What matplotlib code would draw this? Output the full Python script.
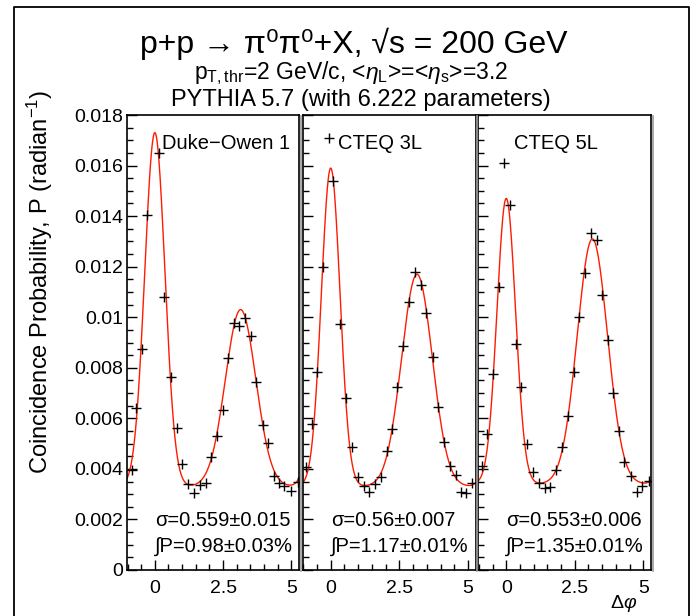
import numpy as np
import matplotlib
matplotlib.use("Agg")
import matplotlib.pyplot as plt
from matplotlib.lines import Line2D
from matplotlib.ticker import FixedLocator

plt.rcParams['font.family'] = ['Liberation Sans', 'DejaVu Sans']
plt.rcParams['mathtext.fontset'] = 'custom'
plt.rcParams['mathtext.rm'] = 'Liberation Sans'
plt.rcParams['mathtext.it'] = 'Liberation Sans:italic'
plt.rcParams['mathtext.bf'] = 'Liberation Sans:bold'

# ---- PYTHIA pi0-pi0 coincidence probability vs delta-phi ----
labels = ["Duke\u2212Owen 1", "CTEQ 3L", "CTEQ 5L"]
sigma_txt = ["\u03c3=0.559\u00b10.015", "\u03c3=0.56\u00b10.007", "\u03c3=0.553\u00b10.006"]
integral_txt = ["\u222bP=0.98\u00b10.03%", "\u222bP=1.17\u00b10.01%", "\u222bP=1.35\u00b10.01%"]

x_ticks = [0, 2.5, 5]
x_ticklabels = ['0', '2.5', '5']
y_ticks = [0, 0.002, 0.004, 0.006, 0.008, 0.010, 0.012, 0.014, 0.016, 0.018]
y_ticklabels = ['0', '0.002', '0.004', '0.006', '0.008', '0.01',
                '0.012', '0.014', '0.016', '0.018']

dphi_do1 = [-0.85, -0.70, -0.48, -0.27, 0.16, 0.34, 0.59, 0.81, 1.01, 1.20, 1.44, 1.65,
            1.87, 2.05, 2.27, 2.48, 2.69, 2.90, 3.09, 3.30, 3.54, 3.72, 3.97, 4.16,
            4.35, 4.53, 4.74, 4.98, 5.23]
p_do1 = [0.00396, 0.00640, 0.00875, 0.01404, 0.01648, 0.01079, 0.00765, 0.00560, 0.00419,
         0.00340, 0.00306, 0.00336, 0.00345, 0.00448, 0.00530, 0.00633, 0.00837, 0.00978,
         0.00965, 0.00996, 0.00926, 0.00745, 0.00574, 0.00501, 0.00372, 0.00343, 0.00332,
         0.00314, 0.00349]

dphi_c3l = [-0.90, -0.69, -0.51, -0.29, -0.05, 0.09, 0.34, 0.56, 0.76, 1.00, 1.21, 1.40,
            1.61, 1.82, 2.04, 2.24, 2.42, 2.65, 2.85, 3.07, 3.28, 3.47, 3.71, 3.89,
            4.12, 4.33, 4.55, 4.76, 4.94, 5.15]
p_c3l = [0.00406, 0.00578, 0.00782, 0.01197, 0.01708, 0.01540, 0.00973, 0.00679, 0.00488,
         0.00367, 0.00334, 0.00307, 0.00340, 0.00369, 0.00471, 0.00557, 0.00723, 0.00885,
         0.01059, 0.01180, 0.01127, 0.01015, 0.00844, 0.00646, 0.00505, 0.00411, 0.00376,
         0.00310, 0.00306, 0.00345]

dphi_c5l = [-0.89, -0.71, -0.49, -0.28, -0.09, 0.12, 0.37, 0.55, 0.75, 0.98, 1.19, 1.41,
            1.61, 1.83, 2.04, 2.24, 2.47, 2.65, 2.87, 3.09, 3.30, 3.50, 3.72, 3.91,
            4.12, 4.30, 4.55, 4.76, 4.96, 5.20]
p_c5l = [0.00411, 0.00538, 0.00775, 0.01118, 0.01609, 0.01444, 0.00895, 0.00725, 0.00497,
         0.00386, 0.00343, 0.00326, 0.00330, 0.00396, 0.00488, 0.00610, 0.00785, 0.01000,
         0.01176, 0.01334, 0.01305, 0.01088, 0.00908, 0.00699, 0.00551, 0.00426, 0.00372,
         0.00310, 0.00332, 0.00353]

# fit parameters: pedestal, near-side amplitude/width, away-side amplitude/width
pedestal = [0.0033, 0.0033, 0.0034]
near_amp = [0.0140, 0.0126, 0.0113]
near_width = [0.37, 0.34, 0.34]
away_amp = [0.0070, 0.0084, 0.0097]
away_width = [0.559, 0.56, 0.553]

points = [(dphi_do1, p_do1), (dphi_c3l, p_c3l), (dphi_c5l, p_c5l)]

XMIN, XMAX = -1.02, 5.28
YMIN, YMAX = 0.0, 0.018


def fit_curve(x, a, b1, s1, b2, s2):
    near = sum(b1 * np.exp(-(x - k * 2 * np.pi) ** 2 / (2 * s1 ** 2)) for k in (-1, 0, 1))
    away = sum(b2 * np.exp(-(x - np.pi - k * 2 * np.pi) ** 2 / (2 * s2 ** 2)) for k in (-1, 0))
    return a + near + away


W, H = 692, 616
fig = plt.figure(figsize=(W / 100, H / 100), dpi=100)

panel_px = [(127, 299), (302.7, 475.7), (478.3, 651)]
y_top, y_bot = 115, 570

x_minor = [v / 2 for v in range(-2, 11)]
y_minor = [v * 0.0005 for v in range(0, 37)]

for i, (x0, x1) in enumerate(panel_px):
    ax = fig.add_axes([x0 / W, 1 - y_bot / H, (x1 - x0) / W, (y_bot - y_top) / H])
    xs = np.linspace(XMIN, XMAX, 600)
    ax.plot(xs, fit_curve(xs, pedestal[i], near_amp[i], near_width[i], away_amp[i], away_width[i]),
            color='#ff1a00', lw=1.0, zorder=2)
    dx, py = points[i]
    ax.plot(dx, py, ls='none', marker='+', ms=7, mew=1.0, color='black', zorder=3)
    ax.set_xlim(XMIN, XMAX)
    ax.set_ylim(YMIN, YMAX)
    ax.xaxis.set_major_locator(FixedLocator(x_ticks))
    ax.xaxis.set_minor_locator(FixedLocator(x_minor))
    ax.yaxis.set_major_locator(FixedLocator(y_ticks))
    ax.yaxis.set_minor_locator(FixedLocator(y_minor))
    ax.set_xticklabels(x_ticklabels)
    ax.set_yticklabels(y_ticklabels)
    ax.tick_params(which='both', direction='in', top=False, right=False, width=1.0, color='black')
    ax.tick_params(which='major', length=7)
    ax.tick_params(which='minor', length=4)
    ax.tick_params(axis='x', labelsize=14, pad=7)
    ax.tick_params(axis='y', labelsize=14, pad=3)
    if i > 0:
        ax.tick_params(axis='y', labelleft=False)
    for sp in ax.spines.values():
        sp.set_linewidth(1.2)
    ax.text(0.205, 0.938, labels[i], transform=ax.transAxes, fontsize=14.5,
            ha='left', va='center')
    ax.text(0.163, 0.108, sigma_txt[i], transform=ax.transAxes, fontsize=14.5,
            ha='left', va='center')
    ax.text(0.163, 0.053, integral_txt[i], transform=ax.transAxes, fontsize=14.5,
            ha='left', va='center')
    # grey shadow along the right edge of each pad
    fig.add_artist(Line2D([(x1 + 1.6) / W] * 2, [1 - (y_bot + 1) / H, 1 - (y_top + 1) / H],
                          color='#9a9a9a', lw=1.2))

# outer canvas frame
fl, ft, fr = 14 / W, 1 - 7 / H, 689 / W
fig.add_artist(Line2D([fl, fl, fr, fr], [-0.02, ft, ft, -0.02], color='black', lw=1.3))

fig.text(354 / W, 1 - 44 / H, "p+p \u2192 \u03c0\u2070\u03c0\u2070+X, \u221as = 200 GeV",
         fontsize=23, ha='center', va='center')
fig.text(351 / W, 1 - 73 / H,
         r"p$_{\rm T,thr}$=2 GeV/c, <$\eta_{\rm L}$>=<$\eta_{\rm s}$>=3.2",
         fontsize=16.5, ha='center', va='center')
fig.text(361 / W, 1 - 100 / H, "PYTHIA 5.7 (with 6.222 parameters)",
         fontsize=17, ha='center', va='center')
fig.text(40 / W, 1 - 282 / H, r"Coincidence Probability, P (radian$^{-1}$)",
         fontsize=17, rotation=90, ha='center', va='center')
fig.text(637 / W, 1 - 604 / H, r"$\Delta\varphi$", fontsize=14, ha='right', va='center')

fig.savefig("out.png", dpi=100, facecolor='white')
